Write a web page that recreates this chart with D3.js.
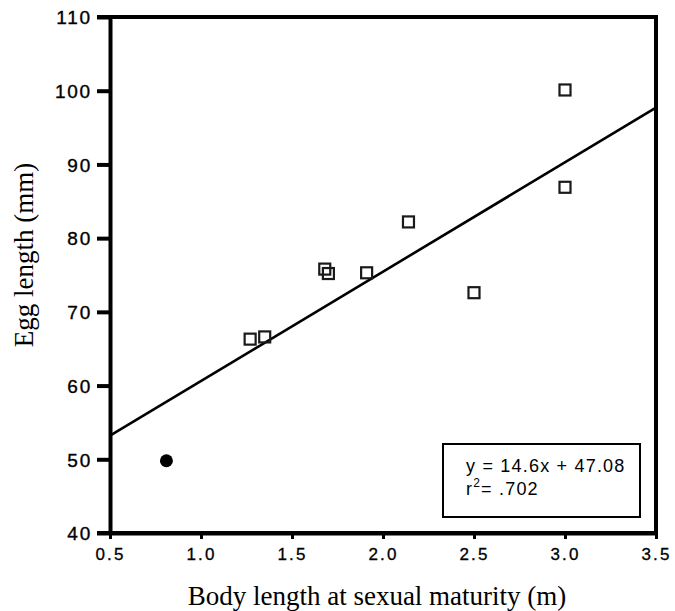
<!DOCTYPE html>
<html>
<head>
<meta charset="utf-8">
<script src="https://cdn.jsdelivr.net/npm/d3@7"></script>
<style>
  body { margin: 0; background: white; }
  svg text { fill: black; }
</style>
</head>
<body>
<svg class="chart" width="675" height="611"></svg>
<script>
const width = 675;
const height = 611;
const margin = { top: 17, right: 19, bottom: 78, left: 110 };

// open squares
const bodyLength = [1.27, 1.35, 1.68, 1.70, 1.91, 2.14, 2.50, 3.00, 3.00];
const eggLength = [66.3, 66.6, 75.8, 75.2, 75.3, 82.2, 72.6, 86.9, 100.1];
// filled circle
const outlierX = [0.81];
const outlierY = [49.8];
// fitted line as drawn (ends at the frame)
const fitX = [0.5, 3.5];
const fitY = [53.2, 97.7];

const xTicks = [0.5, 1.0, 1.5, 2.0, 2.5, 3.0, 3.5];
const yTicks = [40, 50, 60, 70, 80, 90, 100, 110];
const equationLines = ["y = 14.6x + 47.08", "r", "= .702"];

const svg = d3.select("svg.chart");

const x = d3.scaleLinear().domain([0.5, 3.5]).range([margin.left, width - margin.right]);
const y = d3.scaleLinear().domain([40, 110]).range([height - margin.bottom, margin.top]);

const tickFont = "'Liberation Sans', Arial, sans-serif";
const titleFont = "'Liberation Serif', 'Times New Roman', serif";

// axes
const yAxis = svg.append("g")
  .attr("transform", `translate(${margin.left},0)`)
  .call(d3.axisLeft(y).tickValues(yTicks).tickFormat(d3.format("d")).tickSize(13).tickSizeOuter(0).tickPadding(5));
yAxis.select(".domain").attr("stroke-width", 4);
yAxis.selectAll(".tick line").attr("stroke-width", 4);
yAxis.selectAll(".tick text")
  .attr("font-family", tickFont)
  .attr("font-size", 19)
  .attr("letter-spacing", 1.8)
  .attr("stroke", "black")
  .attr("stroke-width", 0.35)
  .attr("dy", "0.36em");

const xAxis = svg.append("g")
  .attr("transform", `translate(0,${height - margin.bottom})`)
  .call(d3.axisBottom(x).tickValues(xTicks).tickFormat(d3.format(".1f")).tickSize(6).tickSizeOuter(0).tickPadding(9));
xAxis.select(".domain").attr("stroke-width", 4);
xAxis.selectAll(".tick line").attr("stroke-width", 3);
xAxis.selectAll(".tick text")
  .attr("font-family", tickFont)
  .attr("font-size", 17)
  .attr("letter-spacing", 2.2)
  .attr("stroke", "black")
  .attr("stroke-width", 0.3);

// extend bottom axis to the left tick length
svg.append("line")
  .attr("x1", x(0.5) - 13).attr("x2", x(3.5) + 2)
  .attr("y1", y(40)).attr("y2", y(40))
  .attr("stroke", "black").attr("stroke-width", 4);

// frame: top and right
svg.append("line")
  .attr("x1", x(0.5) - 13).attr("x2", x(3.5) + 2)
  .attr("y1", y(110)).attr("y2", y(110))
  .attr("stroke", "black").attr("stroke-width", 4);
svg.append("line")
  .attr("x1", x(3.5)).attr("x2", x(3.5))
  .attr("y1", y(110) - 2).attr("y2", y(40) + 2)
  .attr("stroke", "black").attr("stroke-width", 4);

// regression line
svg.append("line")
  .attr("x1", x(fitX[0])).attr("y1", y(fitY[0]))
  .attr("x2", x(fitX[1])).attr("y2", y(fitY[1]))
  .attr("stroke", "black").attr("stroke-width", 2.6);

// squares
const sq = 11;
svg.append("g")
  .selectAll("rect")
  .data(bodyLength.map((d, i) => ({ x: d, y: eggLength[i] })))
  .join("rect")
  .attr("x", (d) => x(d.x) - sq / 2)
  .attr("y", (d) => y(d.y) - sq / 2)
  .attr("width", sq)
  .attr("height", sq)
  .attr("fill", "none")
  .attr("stroke", "#1a1a1a")
  .attr("stroke-width", 2.2);

// filled circle
svg.append("g")
  .selectAll("circle")
  .data(outlierX.map((d, i) => ({ x: d, y: outlierY[i] })))
  .join("circle")
  .attr("cx", (d) => x(d.x))
  .attr("cy", (d) => y(d.y))
  .attr("r", 6.5)
  .attr("fill", "black");

// equation box
svg.append("rect")
  .attr("x", 443).attr("y", 444)
  .attr("width", 197).attr("height", 73)
  .attr("fill", "white")
  .attr("stroke", "black")
  .attr("stroke-width", 2);

svg.append("text")
  .attr("x", 466).attr("y", 472)
  .attr("font-family", tickFont)
  .attr("font-size", 18)
  .attr("letter-spacing", 1.2)
  .text(equationLines[0]);

const r2 = svg.append("text")
  .attr("x", 466).attr("y", 495)
  .attr("font-family", tickFont)
  .attr("font-size", 18)
  .attr("letter-spacing", 1.2);
r2.append("tspan").text(equationLines[1]);
r2.append("tspan").attr("font-size", 12).attr("dy", -8).text("2");
r2.append("tspan").attr("dy", 8).text(equationLines[2]);

// axis titles
svg.append("text")
  .attr("x", (x(0.5) + x(3.5)) / 2 - 6)
  .attr("y", 605)
  .attr("text-anchor", "middle")
  .attr("font-family", titleFont)
  .attr("font-size", 27)
  .text("Body length at sexual maturity (m)");

svg.append("text")
  .attr("transform", `translate(33,255) rotate(-90)`)
  .attr("text-anchor", "middle")
  .attr("font-family", titleFont)
  .attr("font-size", 27)
  .text("Egg length (mm)");
</script>
</body>
</html>
